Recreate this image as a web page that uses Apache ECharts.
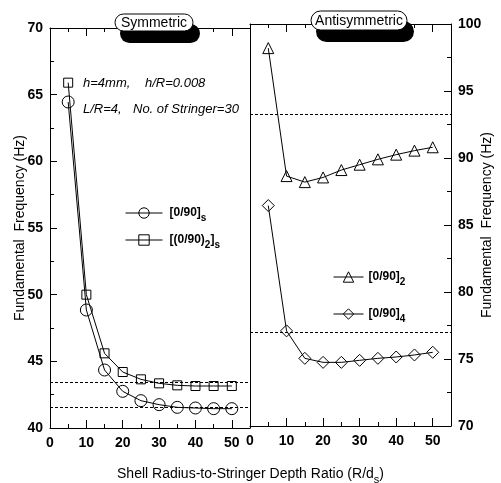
<!DOCTYPE html>
<html>
<head>
<meta charset="utf-8">
<script src="https://cdn.jsdelivr.net/npm/echarts@6/dist/echarts.min.js"></script>
<style>
  html, body { margin: 0; padding: 0; background: #fff; }
  #chart { width: 501px; height: 483px; }
</style>
</head>
<body>
<div id="chart"></div>
<script>
// Shell radius-to-stringer depth ratio (R/ds)
const ratio = [5, 10, 15, 20, 25, 30, 35, 40, 45, 50];

// Symmetric laminates, fundamental frequency (Hz)
const sym090s  = [64.45, 48.85, 44.35, 42.75, 42.05, 41.75, 41.55, 41.5, 41.45, 41.45];
const sym0902s = [65.9, 50.0, 45.6, 44.2, 43.65, 43.35, 43.2, 43.15, 43.15, 43.15];
// Unstiffened reference levels (dashed)
const symLimits = [43.4, 41.55];

// Antisymmetric laminates, fundamental frequency (Hz)
const anti0902 = [98.2, 88.65, 88.2, 88.55, 89.1, 89.5, 89.9, 90.25, 90.55, 90.8];
const anti0904 = [86.45, 77.1, 75.05, 74.75, 74.75, 74.9, 75.05, 75.15, 75.3, 75.5];
const antiLimits = [93.3, 77.0];

// Axis ticks
const xTicks = { min: 0, max: 55, interval: 10 };
const symY = { min: 40, max: 70, interval: 5 };
const antiY = { min: 70, max: 100, interval: 5 };

const FONT = 'Liberation Sans, Arial, sans-serif';
const pair = (ys) => ratio.map((x, i) => [x, ys[i]]);

const legendLabels = {
  '[0/90]s': '{b|[0/90]}{s|s}',
  '[(0/90)2]s': '{b|[(0/90)}{s|2}{b|]}{s|s}',
  '[0/90]2': '{b|[0/90]}{s|2}',
  '[0/90]4': '{b|[0/90]}{s|4}'
};
const legendRich = {
  b: { fontFamily: FONT, fontSize: 12, fontWeight: 'bold', color: '#000' },
  s: { fontFamily: FONT, fontSize: 10, fontWeight: 'bold', color: '#000', padding: [10, 0, 0, 0] }
};

function xAxis(grid, pos, labels) {
  return {
    type: 'value', gridIndex: grid, position: pos,
    min: xTicks.min, max: xTicks.max, interval: xTicks.interval,
    axisLine: { show: true, onZero: false, lineStyle: { color: '#000', width: 1 } },
    axisTick: { show: true, inside: true, length: 8, lineStyle: { color: '#000' } },
    minorTick: { show: true, splitNumber: 2, length: 4, lineStyle: { color: '#000' } },
    axisLabel: { show: labels, showMaxLabel: false, margin: 8, color: '#000',
      fontFamily: FONT, fontSize: 14, fontWeight: 'bold' },
    splitLine: { show: false }
  };
}
function yAxis(grid, pos, range, labels, ticks, name, gap) {
  return {
    type: 'value', gridIndex: grid, position: pos,
    min: range.min, max: range.max, interval: range.interval,
    name: name || '', nameLocation: 'middle', nameRotate: 90, nameGap: gap || 0,
    nameMoveOverlap: false,
    nameTextStyle: { fontFamily: FONT, fontSize: 14, color: '#000' },
    axisLine: { show: true, onZero: false, lineStyle: { color: '#000', width: 1 } },
    axisTick: { show: ticks, inside: true, length: 7, lineStyle: { color: '#000' } },
    minorTick: { show: ticks, splitNumber: 2, length: 4, lineStyle: { color: '#000' } },
    axisLabel: { show: labels, margin: 7, color: '#000',
      fontFamily: FONT, fontSize: 14, fontWeight: 'bold' },
    splitLine: { show: false }
  };
}
function limitLines(values) {
  return {
    silent: true, symbol: 'none', label: { show: false },
    lineStyle: { color: '#000', type: [3, 2], width: 1 },
    data: values.map(v => ({ yAxis: v }))
  };
}
function series(name, ys, xi, yi, symbol, size, limits) {
  const s = {
    name, type: 'line', xAxisIndex: xi, yAxisIndex: yi, data: pair(ys),
    symbol, symbolSize: size, showAllSymbol: true,
    lineStyle: { color: '#000', width: 1 },
    itemStyle: { color: 'rgba(0,0,0,0)', borderColor: '#000', borderWidth: 1 },
    emphasis: { disabled: true }, animation: false, z: 3
  };
  if (limits) s.markLine = limitLines(limits);
  return s;
}

function pill(x, y, w, h, text) {
  return [
    { type: 'rect', shape: { x: x + 5, y: y + 10, width: w + 2, height: h + 2, r: (h + 2) / 2 },
      style: { fill: '#000' }, z: 10 },
    { type: 'rect', shape: { x: x, y: y, width: w, height: h, r: h / 2 },
      style: { fill: '#fff', stroke: '#000', lineWidth: 1 }, z: 11 },
    { type: 'text', x: x + w / 2, y: y + h / 2 + 1, z: 12,
      style: { text: text, align: 'center', verticalAlign: 'middle',
        font: '14px ' + FONT, fill: '#000' } }
  ];
}
function note(x, y, text) {
  return { type: 'text', x, y, z: 12,
    style: { text, verticalAlign: 'middle', font: 'italic 13px ' + FONT, fill: '#000' } };
}

const legendBase = {
  orient: 'vertical', itemHeight: 13, selectedMode: false,
  lineStyle: { width: 1 }, itemStyle: { borderWidth: 1 },
  formatter: n => legendLabels[n]
};

const chart = echarts.init(document.getElementById('chart'), null, { renderer: 'canvas' });
chart.setOption({
  animation: false,
  backgroundColor: '#fff',
  title: {
    text: '{t|Shell Radius-to-Stringer Depth Ratio (R/d}{s|s}{t|)}',
    left: 'center', top: 459,
    textStyle: { fontWeight: 'normal', rich: {
      t: { fontFamily: FONT, fontSize: 14, fontWeight: 'normal', color: '#000' },
      s: { fontFamily: FONT, fontSize: 11, fontWeight: 'normal', color: '#000', padding: [10, 0, 0, 0] }
    } }
  },
  grid: [
    { left: 50, top: 28, width: 200, height: 400 },
    { left: 250, top: 24, width: 201, height: 402 }
  ],
  xAxis: [
    xAxis(0, 'bottom', true), xAxis(1, 'bottom', true),
    xAxis(0, 'top', false), xAxis(1, 'top', false)
  ],
  yAxis: [
    yAxis(0, 'left', symY, true, true, 'Fundamental  Frequency (Hz)', 23),
    yAxis(1, 'right', antiY, true, true, 'Fundamental  Frequency (Hz)', 29),
    yAxis(0, 'right', symY, false, false),
    yAxis(1, 'left', antiY, false, false)
  ],
  legend: [
    Object.assign({}, legendBase, {
      data: ['[0/90]s', '[(0/90)2]s'], left: 120, top: 202, itemWidth: 37, itemGap: 11,
      textStyle: { rich: legendRich, padding: [0, 0, 0, 2] } }),
    Object.assign({}, legendBase, {
      data: ['[0/90]2', '[0/90]4'], left: 328, top: 266, itemWidth: 30, itemGap: 21,
      textStyle: { rich: legendRich, padding: [0, 0, 0, 0] } })
  ],
  series: [
    series('[0/90]s', sym090s, 0, 0, 'circle', 12, symLimits),
    series('[(0/90)2]s', sym0902s, 0, 0, 'rect', 9),
    series('[0/90]2', anti0902, 1, 1, 'triangle', 11, antiLimits),
    series('[0/90]4', anti0904, 1, 1, 'diamond', 12)
  ],
  graphic: [].concat(
    pill(115, 14, 78, 17, 'Symmetric'),
    pill(311, 11, 96, 19, 'Antisymmetric'),
    [
      note(83, 83, 'h=4mm,'), note(145, 83, 'h/R=0.008'),
      note(83, 109, 'L/R=4,'), note(133, 109, 'No. of Stringer=30')
    ]
  )
});
</script>
</body>
</html>
